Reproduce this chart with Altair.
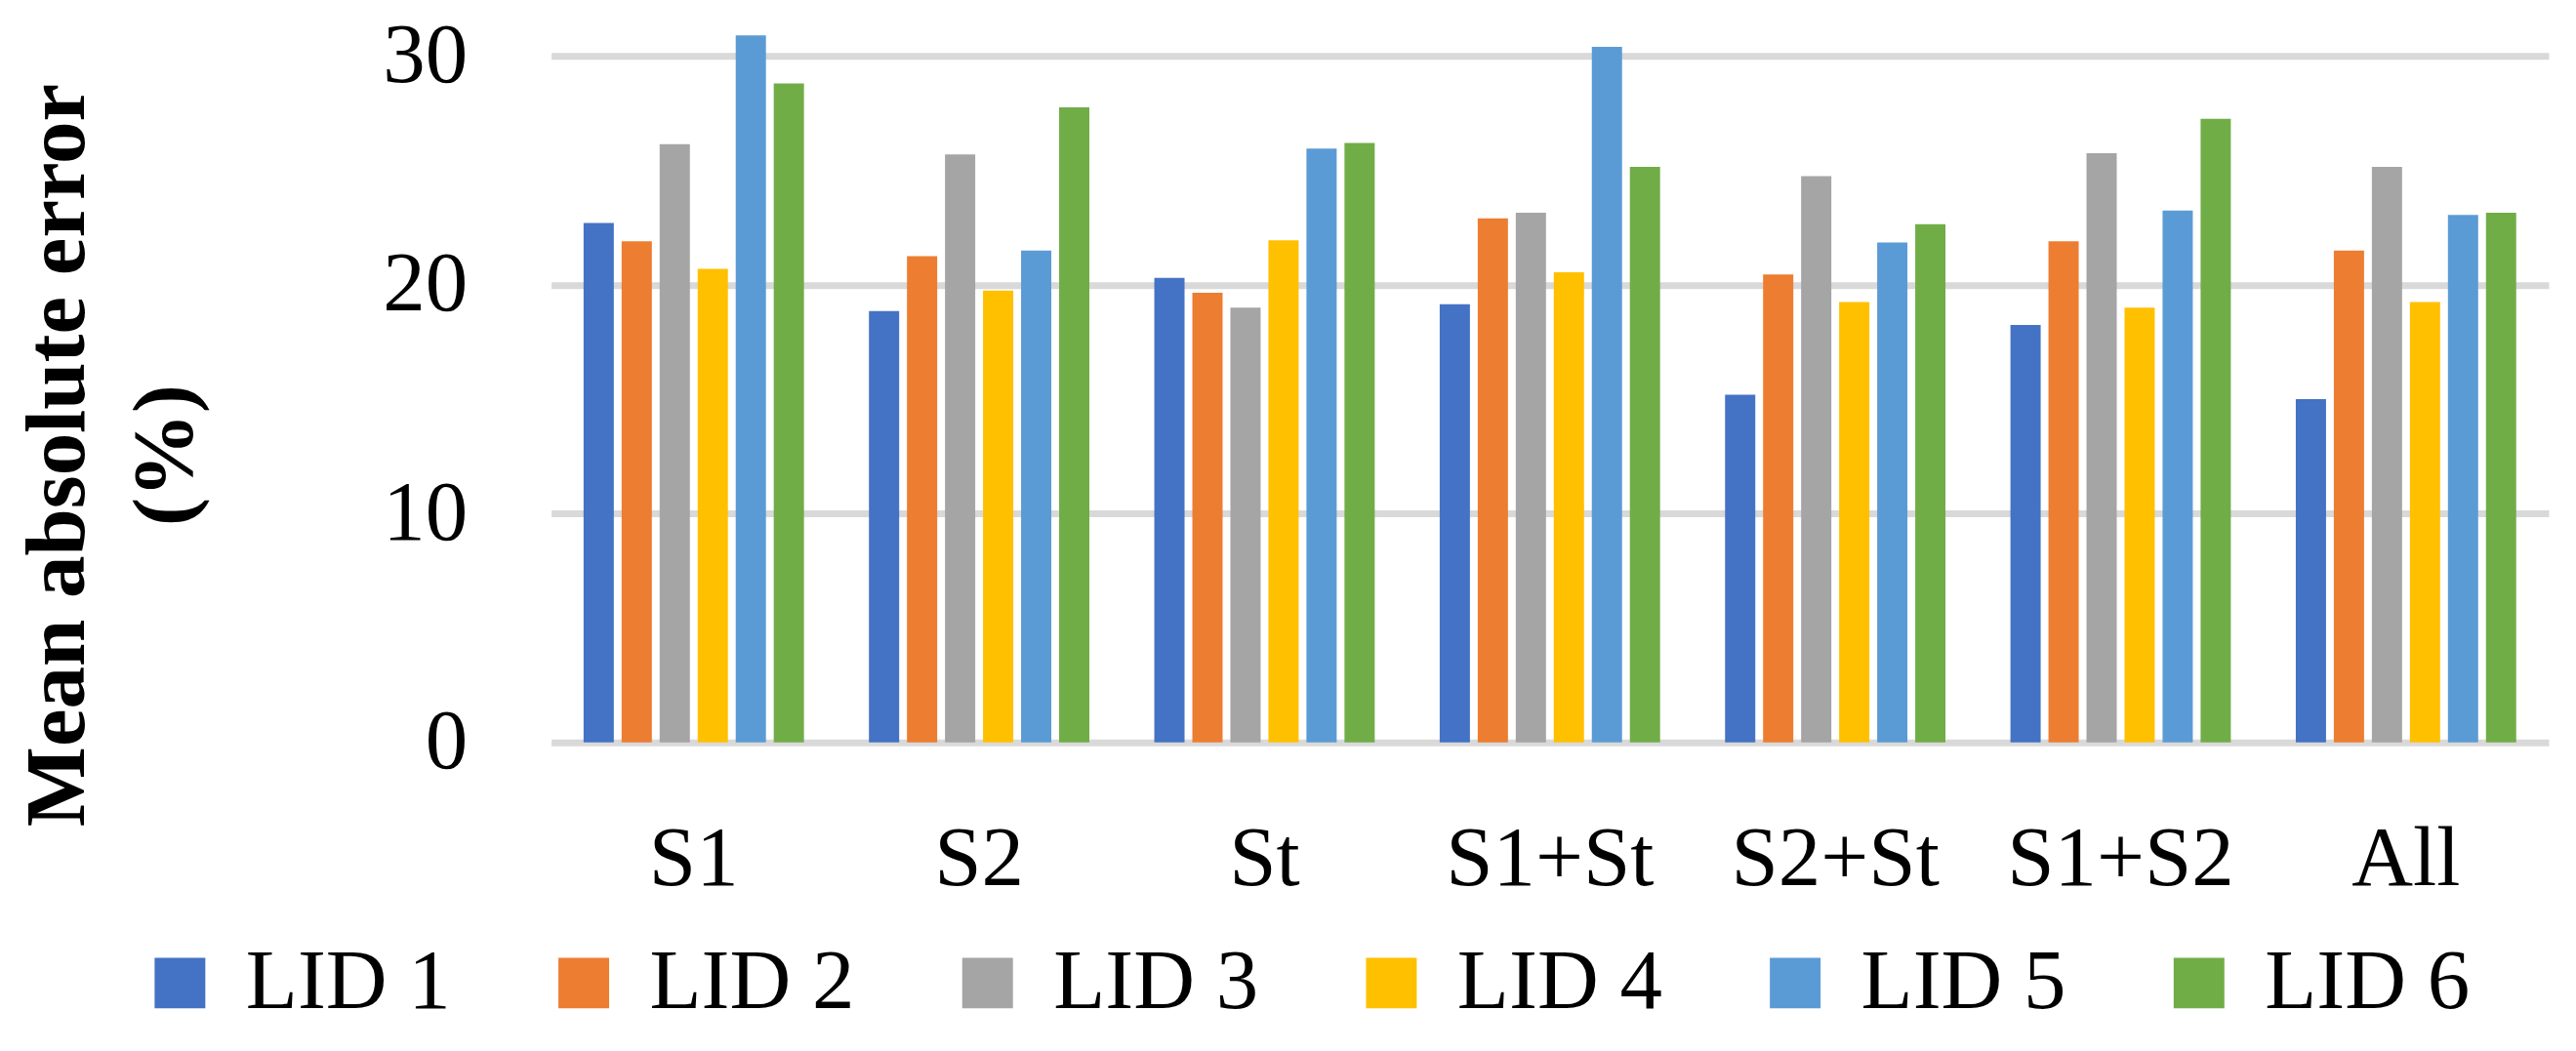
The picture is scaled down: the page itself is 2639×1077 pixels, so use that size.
import altair as alt
import pandas as pd

# groups along the x axis
groups = ["S1", "S2", "St", "S1+St", "S2+St", "S1+S2", "All"]
series = ["LID 1", "LID 2", "LID 3", "LID 4", "LID 5", "LID 6"]
colors = ["#4472C4", "#ED7D31", "#A5A5A5", "#FFC000", "#5B9BD5", "#70AD47"]

# mean absolute error (%) per group, one list per LID
lid1 = [22.7, 18.85, 20.3, 19.15, 15.2, 18.25, 15.0]
lid2 = [21.9, 21.25, 19.65, 22.9, 20.45, 21.9, 21.5]
lid3 = [26.15, 25.7, 19.0, 23.15, 24.75, 25.75, 25.15]
lid4 = [20.7, 19.75, 21.95, 20.55, 19.25, 19.0, 19.25]
lid5 = [30.9, 21.5, 25.95, 30.4, 21.85, 23.25, 23.05]
lid6 = [28.8, 27.75, 26.2, 25.15, 22.65, 27.25, 23.15]

y_ticks = [0, 10, 20, 30]

rows = []
for name, vals in zip(series, [lid1, lid2, lid3, lid4, lid5, lid6]):
    for g, v in zip(groups, vals):
        rows.append({"group": g, "lid": name, "mae": v})
df = pd.DataFrame(rows)

FONT = "Liberation Serif"
FS = 87

chart = (
    alt.Chart(df)
    .mark_bar()
    .encode(
        x=alt.X(
            "group:N",
            sort=groups,
            title=None,
            scale=alt.Scale(paddingInner=0, paddingOuter=0),
            axis=alt.Axis(
                domain=False,
                ticks=False,
                tickSize=0,
                grid=False,
                labelAngle=0,
                labelFont=FONT,
                labelFontSize=FS,
                labelColor="#000000",
                labelPadding=77,
                labelLimit=0,
            ),
        ),
        xOffset=alt.XOffset(
            "lid:N",
            sort=series,
            scale=alt.Scale(paddingInner=0.205, paddingOuter=0.854),
        ),
        y=alt.Y(
            "mae:Q",
            scale=alt.Scale(domain=[0, 30], nice=False),
            axis=alt.Axis(
                values=y_ticks,
                domain=False,
                ticks=False,
                tickSize=0,
                grid=True,
                gridColor="#D9D9D9",
                gridWidth=7,
                labelFont=FONT,
                labelFontSize=FS,
                labelColor="#000000",
                labelPadding=86,
                title=["Mean absolute error", "(%)"],
                titleFont=FONT,
                titleFontSize=FS,
                titleFontWeight="bold",
                titleColor="#000000",
                titleAngle=270,
                titleAlign="center",
                titleBaseline="top",
                titleLineHeight=110,
                titleX=-548,
                titleY=409,
            ),
        ),
        color=alt.Color(
            "lid:N",
            sort=series,
            scale=alt.Scale(domain=series, range=colors),
            legend=alt.Legend(
                title=None,
                orient="none",
                direction="horizontal",
                legendX=-424,
                legendY=907,
                padding=0,
                symbolType="square",
                symbolSize=2704,
                symbolStrokeWidth=0,
                symbolOpacity=1,
                labelFont=FONT,
                labelFontSize=FS,
                labelColor="#000000",
                labelOffset=24,
                labelLimit=400,
                columnPadding=92,
            ),
        ),
    )
    .properties(
        width=2048,
        height=704,
        padding={"left": 557, "top": 49, "right": 20, "bottom": 300},
        autosize=alt.AutoSizeParams(type="none"),
    )
    .configure_view(stroke=None)
)

chart.save("out.html", embed_options={"renderer": "svg", "actions": False})
